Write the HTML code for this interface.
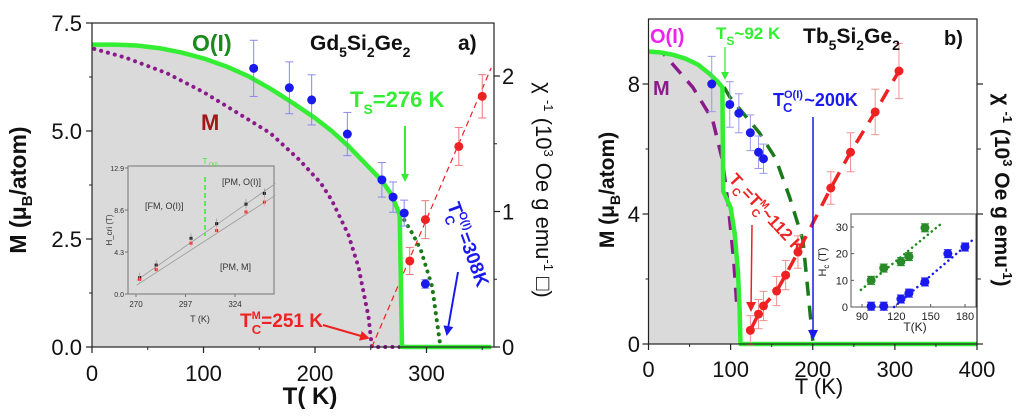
<!DOCTYPE html>
<html><head><meta charset="utf-8">
<style>
html,body{margin:0;padding:0;background:#fff;}
svg{display:block;font-family:"Liberation Sans",Arial,sans-serif;}
</style></head>
<body>
<svg id="fig" width="1024" height="416" viewBox="0 0 1024 416" xmlns="http://www.w3.org/2000/svg">
<defs>
<marker id="arG" markerWidth="8" markerHeight="8" refX="6" refY="4" orient="auto" markerUnits="userSpaceOnUse"><path d="M0,0 L8,4 L0,8 z" fill="#33ee33"/></marker>
<marker id="arR" markerWidth="10" markerHeight="10" refX="8" refY="5" orient="auto" markerUnits="userSpaceOnUse"><path d="M0,0 L10,5 L0,10 z" fill="#ee2222"/></marker>
<marker id="arB" markerWidth="10" markerHeight="10" refX="8" refY="5" orient="auto" markerUnits="userSpaceOnUse"><path d="M0,0 L10,5 L0,10 z" fill="#1a1aee"/></marker>
</defs>
<g id="pa"></g>
<g id="pb"></g>
</svg>
<script>
// ---- Panel a data ----
const aXTicks = [0,100,200,300];
const aYTicks = [0,2.5,5,7.5];
const aYTickLabels = ["0.0","2.5","5.0","7.5"];
const aRTicks = [0,1,2];
const aGreenT = [0,20,40,60,80,100,120,140,160,180,200,215,230,245,260,268,273,276,278,358];
const aGreenM = [7.0,7.0,6.98,6.92,6.82,6.68,6.5,6.27,5.98,5.65,5.3,5.0,4.65,4.25,3.85,3.55,3.25,3.05,0,0];
const aPurpleT = [2,30,67,100,126,160,186,205,215,230,239,248,251,265,280];
const aPurpleM = [6.9,6.7,6.34,5.9,5.49,4.95,4.33,3.8,3.4,2.6,1.85,0.7,0,0,0];
const aDkGreenT = [280,288,295,305,312];
const aDkGreenM = [2.94,2.6,2.24,1.4,0.1];
const aBlueT = [145,177,197,229,260,270,280,299];
const aBlueM = [6.45,6.0,5.72,4.93,3.87,3.47,3.1,1.46];
const aBlueErr = [0.65,0.6,0.58,0.5,0.4,0.35,0.3,0.1];
const aRedT = [285,299,329,350];
const aRedChi = [0.635,0.94,1.48,1.85];
const aRedErr = [0.1,0.14,0.14,0.16];
const aRedLineT = [251,358];
const aRedLineChi = [0,2.06];
// inset a
const iaXTicks = [270,297,324];
const iaYTicks = [0,4.3,8.6,12.9];
const iaBlackT = [272,281,300,314,330,340];
const iaBlackH = [1.68,2.96,5.7,7.2,9.2,10.3];
const iaRedT = [272,281,300,314,330,340];
const iaRedH = [1.5,2.5,5.2,6.5,8.4,9.4];
// ---- Panel b data ----
const bXTicks = [0,100,200,300,400];
const bYTicks = [0,4,8];
const bGreenT = [0,15,30,45,60,75,85,90,91,100,105,109,111,112,400];
const bGreenM = [9.0,8.97,8.9,8.78,8.6,8.3,8.05,7.9,4.7,4.2,3.4,2.2,1.0,0,0];
const bPurpleT = [5,17,54,78,90,97,104,108];
const bPurpleM = [9.0,8.97,7.9,6.9,5.66,4.3,2.5,1.0];
const bDkGreenT = [92,99,135,155,172,188,200];
const bDkGreenM = [7.9,7.6,6.5,5.7,4.5,3.2,0.1];
const bBlueT = [77,99,110,124,134,140];
const bBlueM = [8.0,7.37,7.1,6.5,5.9,5.7];
const bBlueErr = [0.85,0.7,0.6,0.55,0.5,0.45];
const bRedT = [124,134,140,156,167,182,222,246,276,305];
const bRedM = [0.42,0.92,1.17,1.63,2.12,2.83,4.8,5.9,7.14,8.4];
const bRedErr = [0.45,0.45,0.45,0.45,0.45,0.5,0.5,0.6,0.7,0.85];
// inset b
const ibXTicks = [90,120,150,180];
const ibYTicks = [0,10,20,30];
const ibGreenT = [98,109,124,131,145];
const ibGreenH = [10,14.6,17,18.9,29.7];
const ibBlueT = [98,109,124,131,145,165,180];
const ibBlueH = [0.3,0.3,3,5.2,9.4,20,22.5];
const ibGreenLineT = [89,160];
const ibGreenLineH = [6.4,31.5];
const ibBlueLineT = [118,189];
const ibBlueLineH = [0,26];

const NS="http://www.w3.org/2000/svg";
function mk(parent,tag,attrs,text){const e=document.createElementNS(NS,tag);for(const k in attrs)e.setAttribute(k,attrs[k]);if(text!==undefined)e.textContent=text;parent.appendChild(e);return e;}
function lin(d0,d1,r0,r1){return v=>r0+(v-d0)*(r1-r0)/(d1-d0);}
function pts(xs,ys,sx,sy){return xs.map((x,i)=>sx(x).toFixed(1)+","+sy(ys[i]).toFixed(1)).join(" ");}

// ================= PANEL A =================
const pa=document.getElementById('pa');
const ax=lin(0,100,92,203.5), ay=lin(0,7.5,347,23), ar=lin(0,1,347,211.5);
const AL=92,AR=494,AT=23,AB=347;
const nA=aGreenT.length-1;
let fillPts=pts(aGreenT.slice(0,nA),aGreenM.slice(0,nA),ax,ay)+" "+ax(278)+","+AB+" "+AL+","+AB;
let e=mk(pa,'polygon',{points:fillPts,fill:'#dadada'});

// inset a
const ia=mk(pa,'g',{});
const IL=128,IR=274,IT=166,IB=294;
const ix=lin(270,324,136,235), iy=lin(0,12.9,294,168);
mk(ia,'rect',{x:IL,y:IT,width:IR-IL,height:IB-IT,fill:'none',stroke:'#777','stroke-width':1});
iaXTicks.forEach(t=>{mk(ia,'line',{x1:ix(t),x2:ix(t),y1:IB,y2:IB+3,stroke:'#777'});mk(ia,'text',{x:ix(t),y:IB+13,'font-size':8,'text-anchor':'middle',fill:'#333'},t);});
iaYTicks.forEach(t=>{mk(ia,'line',{x1:IL,x2:IL-3,y1:iy(t),y2:iy(t),stroke:'#777'});mk(ia,'text',{x:IL-4,y:iy(t)+3,'font-size':7,'text-anchor':'end',fill:'#333'},t.toFixed(1));});
mk(ia,'text',{x:200,y:322,'font-size':9,'text-anchor':'middle',fill:'#333'},'T (K)');
mk(ia,'text',{x:0,y:0,'font-size':8,'text-anchor':'middle',fill:'#333',transform:'translate(112,230) rotate(-90)'},'H_cri (T)');
mk(ia,'line',{x1:ix(272)-3,y1:iy(1.4),x2:ix(346),y2:iy(11.3),stroke:'#999','stroke-width':0.8});
mk(ia,'line',{x1:ix(272)-3,y1:iy(0.9),x2:ix(346),y2:iy(10.1),stroke:'#999','stroke-width':0.8});
mk(ia,'line',{x1:205,y1:177,x2:205,y2:236,stroke:'#33ee33','stroke-width':1.5,'stroke-dasharray':'5,3'});
mk(ia,'text',{x:205,y:164,'font-size':8,'text-anchor':'middle',fill:'#33ee33'},'T');
mk(ia,'text',{x:209,y:166,'font-size':5,fill:'#33ee33'},'O(I)');
mk(ia,'text',{x:145,y:209,'font-size':9,fill:'#333'},'[FM, O(I)]');
mk(ia,'text',{x:222,y:185,'font-size':9,fill:'#333'},'[PM, O(I)]');
mk(ia,'text',{x:220,y:270,'font-size':9,fill:'#333'},'[PM, M]');
iaBlackT.forEach((t,i)=>{const c=mk(ia,'rect',{x:ix(t)-1.5,y:iy(iaBlackH[i])-1.5,width:3,height:3,fill:'#111'});
 mk(ia,'line',{x1:ix(t),x2:ix(t),y1:iy(iaBlackH[i])-5,y2:iy(iaBlackH[i])+4,stroke:'#888','stroke-width':0.6});});
iaRedT.forEach((t,i)=>{const c=mk(ia,'rect',{x:ix(t)-1.5,y:iy(iaRedH[i])-1.5,width:3,height:3,fill:'#ee2222'});
 mk(ia,'line',{x1:ix(t),x2:ix(t),y1:iy(iaRedH[i])-4,y2:iy(iaRedH[i])+4,stroke:'#f99','stroke-width':0.6});});
e=mk(pa,'polyline',{points:pts(aPurpleT,aPurpleM,ax,ay),fill:'none',stroke:'#8b1a8b','stroke-width':4,'stroke-dasharray':'0.1,7','stroke-linecap':'round'});

e=mk(pa,'polyline',{points:pts(aDkGreenT,aDkGreenM,ax,ay),fill:'none',stroke:'#1a7a1a','stroke-width':4,'stroke-dasharray':'0.1,7','stroke-linecap':'round'});

e=mk(pa,'polyline',{points:pts(aRedLineT,aRedLineChi,ax,ar),fill:'none',stroke:'#ee2222','stroke-width':1.2,'stroke-dasharray':'6,4'});

e=mk(pa,'polyline',{points:pts(aGreenT,aGreenM,ax,ay),fill:'none',stroke:'#33ee33','stroke-width':4.5,'stroke-linejoin':'round'});

aBlueT.forEach((t,i)=>{const X=ax(t),Y=ay(aBlueM[i]),d=aBlueErr[i]*43.2;
 mk(pa,'line',{x1:X,x2:X,y1:Y-d,y2:Y+d,stroke:'#8888ee','stroke-width':1});
 mk(pa,'line',{x1:X-4,x2:X+4,y1:Y-d,y2:Y-d,stroke:'#8888ee'});mk(pa,'line',{x1:X-4,x2:X+4,y1:Y+d,y2:Y+d,stroke:'#8888ee'});
 const c=mk(pa,'circle',{cx:X,cy:Y,r:4.5,fill:'#1a1aee'});});
aRedT.forEach((t,i)=>{const X=ax(t),Y=ar(aRedChi[i]),d=aRedErr[i]*135.5;
 mk(pa,'line',{x1:X,x2:X,y1:Y-d,y2:Y+d,stroke:'#ee7777','stroke-width':1});
 mk(pa,'line',{x1:X-4,x2:X+4,y1:Y-d,y2:Y-d,stroke:'#ee7777'});mk(pa,'line',{x1:X-4,x2:X+4,y1:Y+d,y2:Y+d,stroke:'#ee7777'});
 const c=mk(pa,'circle',{cx:X,cy:Y,r:4.5,fill:'#ee2222'});});
mk(pa,'rect',{x:AL,y:AT,width:AR-AL,height:AB-AT,fill:'none',stroke:'#222','stroke-width':1.2});
aXTicks.forEach(t=>{mk(pa,'line',{x1:ax(t),x2:ax(t),y1:AB,y2:AB+6,stroke:'#222','stroke-width':1.2});mk(pa,'text',{x:ax(t),y:381,'font-size':22,'text-anchor':'middle',fill:'#111'},t);});
[50,150,250,350].forEach(t=>mk(pa,'line',{x1:ax(t),x2:ax(t),y1:AB,y2:AB+3,stroke:'#222'}));
aYTicks.forEach((t,i)=>{mk(pa,'line',{x1:AL,x2:AL-6,y1:ay(t),y2:ay(t),stroke:'#222','stroke-width':1.2});mk(pa,'text',{x:82,y:ay(t)+8,'font-size':22,'text-anchor':'end',fill:'#111'},aYTickLabels[i]);});
[1.25,3.75,6.25].forEach(t=>mk(pa,'line',{x1:AL,x2:AL-3,y1:ay(t),y2:ay(t),stroke:'#222'}));
aRTicks.forEach(t=>{mk(pa,'line',{x1:AR,x2:AR+6,y1:ar(t),y2:ar(t),stroke:'#222','stroke-width':1.2});mk(pa,'text',{x:502,y:ar(t)+8,'font-size':22,fill:'#111'},t);});
[0.5,1.5].forEach(t=>mk(pa,'line',{x1:AR,x2:AR+3,y1:ar(t),y2:ar(t),stroke:'#222'}));
e=mk(pa,'text',{x:310,y:404,'font-size':24,'font-weight':'bold','text-anchor':'middle',fill:'#111'},'T( K)');
e=mk(pa,'text',{transform:'translate(26,190) rotate(-90)','font-size':23,'font-weight':'bold','text-anchor':'middle',fill:'#111'});
e.innerHTML='M (μ<tspan font-size="15" dy="6">B</tspan><tspan dy="-6">/atom)</tspan>';
e=mk(pa,'text',{transform:'translate(536,190) rotate(90)','font-size':22,'text-anchor':'middle',fill:'#111'});
e.innerHTML='χ <tspan font-size="13" dy="-8">-1</tspan><tspan dy="8"> (10</tspan><tspan font-size="13" dy="-8">3</tspan><tspan dy="8"> Oe g emu</tspan><tspan font-size="13" dy="-8">-1</tspan><tspan dy="8"> □)</tspan>';

mk(pa,'text',{x:192,y:51,'font-size':23,'font-weight':'bold',fill:'#1a8a1a'},'O(I)');
e=mk(pa,'text',{x:310,y:50,'font-size':21,'font-weight':'bold',fill:'#111'});e.innerHTML='Gd<tspan font-size="14" dy="7">5</tspan><tspan dy="-7">Si</tspan><tspan font-size="14" dy="7">2</tspan><tspan dy="-7">Ge</tspan><tspan font-size="14" dy="7">2</tspan>';
mk(pa,'text',{x:458,y:50,'font-size':21,'font-weight':'bold',fill:'#111'},'a)');
mk(pa,'text',{x:201,y:130,'font-size':22,'font-weight':'bold',fill:'#a01818'},'M');
e=mk(pa,'text',{x:350,y:107,'font-size':22,'font-weight':'bold',fill:'#33ee33'});e.innerHTML='T<tspan font-size="14" dy="7">S</tspan><tspan dy="-7">=276 K</tspan>';
mk(pa,'line',{x1:405,y1:126,x2:405,y2:180,stroke:'#33ee33','stroke-width':2,'marker-end':'url(#arG)'});
e=mk(pa,'text',{x:240,y:327,'font-size':19,'font-weight':'bold',fill:'#ee2222'});e.innerHTML='T<tspan font-size="11" dy="-8">M</tspan><tspan font-size="13" dx="-9" dy="15">C</tspan><tspan dy="-7">=251 K</tspan>';
mk(pa,'line',{x1:323,y1:325,x2:368,y2:338,stroke:'#ee2222','stroke-width':2,'marker-end':'url(#arR)'});
e=mk(pa,'text',{transform:'translate(447,205) rotate(70)','font-size':19,'font-weight':'bold',fill:'#1a1aee'});e.innerHTML='T<tspan font-size="11" dy="-8">O(I)</tspan><tspan font-size="13" dx="-20" dy="15">C</tspan><tspan dx="12" dy="-7">=308K</tspan>';
mk(pa,'line',{x1:458,y1:272,x2:447,y2:334,stroke:'#1a1aee','stroke-width':2,'marker-end':'url(#arB)'});

// ================= PANEL B =================
const pb=document.getElementById('pb');
const bx=lin(0,400,648.5,977), by=lin(0,8,344,84);
const BL=648.5,BR=977,BT=19,BB=344;
const nB=bGreenT.length-1;
fillPts=pts(bGreenT.slice(0,nB),bGreenM.slice(0,nB),bx,by)+" "+bx(112)+","+BB+" "+BL+","+BB;
e=mk(pb,'polygon',{points:fillPts,fill:'#dadada'});
const ib=mk(pb,'g',{});
const JL=851,JR=976,JT=214,JB=307;
const jx=lin(90,180,862,965), jy=lin(0,30,307,227);
mk(ib,'rect',{x:JL,y:JT,width:JR-JL,height:JB-JT,fill:'#fff',stroke:'#555','stroke-width':1});
ibXTicks.forEach(t=>{mk(ib,'line',{x1:jx(t),x2:jx(t),y1:JB,y2:JB-3,stroke:'#555'});mk(ib,'text',{x:jx(t),y:JB+13,'font-size':11,'text-anchor':'middle',fill:'#222'},t);});
ibYTicks.forEach(t=>{mk(ib,'line',{x1:JL,x2:JL+3,y1:jy(t),y2:jy(t),stroke:'#555'});mk(ib,'text',{x:JL-3,y:jy(t)+4,'font-size':11,'text-anchor':'end',fill:'#222'},t);});
mk(ib,'text',{x:915,y:331,'font-size':12,'text-anchor':'middle',fill:'#222'},'T(K)');
e=mk(ib,'text',{transform:'translate(826,262) rotate(-90)','font-size':11,'text-anchor':'middle',fill:'#222'});e.innerHTML='H<tspan font-size="8" dy="3">c</tspan><tspan dy="-3"> (T)</tspan>';
mk(ib,'polyline',{points:pts(ibGreenLineT,ibGreenLineH,jx,jy),fill:'none',stroke:'#1a8a1a','stroke-width':2.5,'stroke-dasharray':'0.1,5','stroke-linecap':'round'});
mk(ib,'polyline',{points:pts(ibBlueLineT,ibBlueLineH,jx,jy),fill:'none',stroke:'#1a1aee','stroke-width':2.5,'stroke-dasharray':'0.1,5','stroke-linecap':'round'});
ibGreenT.forEach((t,i)=>{const X=jx(t),Y=jy(ibGreenH[i]);mk(ib,'line',{x1:X-4,x2:X+4,y1:Y-4,y2:Y-4,stroke:'#1a8a1a'});mk(ib,'line',{x1:X-4,x2:X+4,y1:Y+4,y2:Y+4,stroke:'#1a8a1a'});
 const c=mk(ib,'circle',{cx:X,cy:Y,r:4.5,fill:'#2a8a2a'});});
ibBlueT.forEach((t,i)=>{const X=jx(t),Y=jy(ibBlueH[i]);mk(ib,'line',{x1:X-4,x2:X+4,y1:Y-4,y2:Y-4,stroke:'#1a1aee'});mk(ib,'line',{x1:X-4,x2:X+4,y1:Y+4,y2:Y+4,stroke:'#1a1aee'});
 const c=mk(ib,'circle',{cx:X,cy:Y,r:4.5,fill:'#1a1aee'});});
e=mk(pb,'polyline',{points:pts(bPurpleT,bPurpleM,bx,by),fill:'none',stroke:'#8b1a8b','stroke-width':3.5,'stroke-dasharray':'14,10'});
e=mk(pb,'polyline',{points:pts(bDkGreenT,bDkGreenM,bx,by),fill:'none',stroke:'#1a7a1a','stroke-width':3.5,'stroke-dasharray':'14,10'});
e=mk(pb,'polyline',{points:pts(bRedT,bRedM,bx,by),fill:'none',stroke:'#ee2222','stroke-width':3.5,'stroke-dasharray':'14,10'});
e=mk(pb,'polyline',{points:pts(bGreenT,bGreenM,bx,by),fill:'none',stroke:'#33ee33','stroke-width':4.5,'stroke-linejoin':'round'});
bBlueT.forEach((t,i)=>{const X=bx(t),Y=by(bBlueM[i]),d=bBlueErr[i]*32.5;
 mk(pb,'line',{x1:X,x2:X,y1:Y-d,y2:Y+d,stroke:'#9999ee'});mk(pb,'line',{x1:X-4,x2:X+4,y1:Y-d,y2:Y-d,stroke:'#9999ee'});mk(pb,'line',{x1:X-4,x2:X+4,y1:Y+d,y2:Y+d,stroke:'#9999ee'});
 const c=mk(pb,'circle',{cx:X,cy:Y,r:4.5,fill:'#1a1aee'});});
bRedT.forEach((t,i)=>{const X=bx(t),Y=by(bRedM[i]),d=bRedErr[i]*32.5;
 mk(pb,'line',{x1:X,x2:X,y1:Y-d,y2:Y+d,stroke:'#f09090'});mk(pb,'line',{x1:X-4,x2:X+4,y1:Y-d,y2:Y-d,stroke:'#f09090'});mk(pb,'line',{x1:X-4,x2:X+4,y1:Y+d,y2:Y+d,stroke:'#f09090'});
 const c=mk(pb,'circle',{cx:X,cy:Y,r:4.5,fill:'#ee2222'});});
mk(pb,'rect',{x:BL,y:BT,width:BR-BL,height:BB-BT,fill:'none',stroke:'#222','stroke-width':1.2});
bXTicks.forEach(t=>{mk(pb,'line',{x1:bx(t),x2:bx(t),y1:BB,y2:BB+6,stroke:'#222','stroke-width':1.2});mk(pb,'text',{x:bx(t),y:377,'font-size':22,'text-anchor':'middle',fill:'#111'},t);});
[50,150,250,350].forEach(t=>mk(pb,'line',{x1:bx(t),x2:bx(t),y1:BB,y2:BB+3,stroke:'#222'}));
bYTicks.forEach(t=>{mk(pb,'line',{x1:BL,x2:BL-6,y1:by(t),y2:by(t),stroke:'#222','stroke-width':1.2});mk(pb,'text',{x:640,y:by(t)+8,'font-size':22,'text-anchor':'end',fill:'#111'},t);
 mk(pb,'line',{x1:BR,x2:BR+6,y1:by(t),y2:by(t),stroke:'#222','stroke-width':1.2});});
[2,6].forEach(t=>{mk(pb,'line',{x1:BL,x2:BL-3,y1:by(t),y2:by(t),stroke:'#222'});mk(pb,'line',{x1:BR,x2:BR+4,y1:by(t),y2:by(t),stroke:'#222'});});
e=mk(pb,'text',{x:819,y:394,'font-size':22,'text-anchor':'middle',fill:'#111'},'T (K)');
e=mk(pb,'text',{transform:'translate(614,190) rotate(-90)','font-size':21,'font-weight':'bold','text-anchor':'middle',fill:'#111'});
e.innerHTML='M (μ<tspan font-size="14" dy="6">B</tspan><tspan dy="-6">/atom)</tspan>';
e=mk(pb,'text',{transform:'translate(995,190) rotate(90)','font-size':21,'font-weight':'bold','text-anchor':'middle',fill:'#111'});
e.innerHTML='χ <tspan font-size="13" dy="-8">-1</tspan><tspan dy="8"> (10</tspan><tspan font-size="13" dy="-8">3</tspan><tspan dy="8"> Oe g emu</tspan><tspan font-size="13" dy="-8">-1</tspan><tspan dy="8">)</tspan>';

mk(pb,'text',{x:650,y:43,'font-size':20,'font-weight':'bold',fill:'#ee22ee'},'O(I)');
e=mk(pb,'text',{x:716,y:39,'font-size':17,'font-weight':'bold',fill:'#33ee33'});e.innerHTML='T<tspan font-size="12" dy="6">S</tspan><tspan dy="-6">~92 K</tspan>';
mk(pb,'line',{x1:725,y1:47,x2:725,y2:78,stroke:'#33ee33','stroke-width':1.3,'marker-end':'url(#arG)'});
e=mk(pb,'text',{x:803,y:43,'font-size':21,'font-weight':'bold',fill:'#111'});e.innerHTML='Tb<tspan font-size="14" dy="7">5</tspan><tspan dy="-7">Si</tspan><tspan font-size="14" dy="7">2</tspan><tspan dy="-7">Ge</tspan><tspan font-size="14" dy="7">2</tspan>';
mk(pb,'text',{x:944,y:45,'font-size':20,'font-weight':'bold',fill:'#111'},'b)');
mk(pb,'text',{x:653,y:95,'font-size':20,'font-weight':'bold',fill:'#8b1a8b'},'M');
e=mk(pb,'text',{x:773,y:106,'font-size':18,'font-weight':'bold',fill:'#1a1aee'});e.innerHTML='T<tspan font-size="11" dy="-8">O(I)</tspan><tspan font-size="13" dx="-20" dy="14">C</tspan><tspan dx="12" dy="-6">~200K</tspan>';
mk(pb,'line',{x1:813,y1:117,x2:813,y2:338,stroke:'#1a1aee','stroke-width':1.5,'marker-end':'url(#arB)'});
e=mk(pb,'text',{transform:'translate(728,180) rotate(47)','font-size':17,'font-weight':'bold',fill:'#ee2222'});e.innerHTML='T<tspan font-size="11" dy="6">C</tspan><tspan dy="-6">=T</tspan><tspan font-size="10" dy="-7">M</tspan><tspan font-size="11" dx="-8" dy="13">C</tspan><tspan dy="-6">~112 K</tspan>';
mk(pb,'line',{x1:752,y1:225,x2:751,y2:310,stroke:'#ee2222','stroke-width':1.5,'marker-end':'url(#arR)'});
</script>
</body></html>
